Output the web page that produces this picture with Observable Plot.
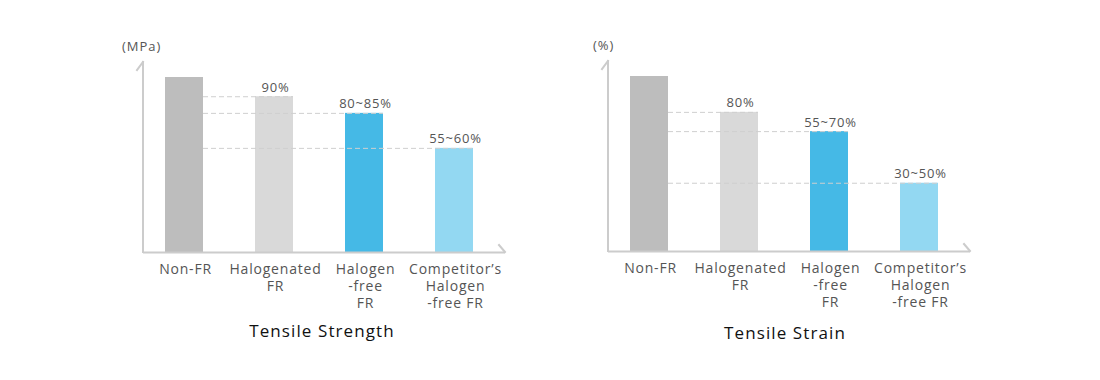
<!DOCTYPE html>
<html>
<head>
<meta charset="utf-8">
<script src="https://cdn.jsdelivr.net/npm/d3@7"></script>
<script src="https://cdn.jsdelivr.net/npm/@observablehq/plot@0.6"></script>
<style>
  html, body { margin: 0; padding: 0; background: #fff; }
  #wrap { position: relative; width: 1100px; height: 380px; overflow: hidden; font-family: "Open Sans", sans-serif; }
  .panel { position: absolute; top: 0; }
  .unit { position: absolute; font-size: 13px; color: #555; letter-spacing: 1px; }
  .title { position: absolute; font-size: 17px; color: #111; letter-spacing: 1.1px; transform: translateX(-50%); white-space: nowrap; }
</style>
</head>
<body>
<div id="wrap"></div>
<script>
// Categories (shared by both charts)
const categories = ["Non-FR", "Halogenated FR", "Halogen-free FR", "Competitor's Halogen-free FR"];
const categoryLabels = ["Non-FR", "Halogenated\nFR", "Halogen\n-free\nFR", "Competitor’s\nHalogen\n-free FR"];
const colors = ["#bdbdbd", "#d9d9d9", "#45b9e6", "#93d8f2"];

// Tensile Strength (relative to Non-FR = 100)
const strengthValues = [100, 89, 79.5, 59.5];
const strengthLabels = ["", "90%", "80~85%", "55~60%"];

// Tensile Strain (relative to Non-FR = 100)
const strainValues = [100, 79.5, 68.5, 39];
const strainLabels = ["", "80%", "55~70%", "30~50%"];

const panels = [
  {values: strengthValues, labels: strengthLabels, unit: "(MPa)", title: "Tensile Strength", left: 0, top: 0, unitX: 122, unitY: 37, titleX: 322, titleY: 319},
  {values: strainValues, labels: strainLabels, unit: "(%)", title: "Tensile Strain", left: 465, top: -1, unitX: 593, unitY: 36, titleX: 785, titleY: 321}
];

const wrap = document.getElementById("wrap");
const labelOf = new Map(categories.map((c, i) => [c, categoryLabels[i]]));

for (const p of panels) {
  const data = categories.map((c, i) => ({category: c, value: p.values[i], label: p.labels[i], color: colors[i]}));
  const ref = data.slice(1);
  const bw = 38;
  const chart = Plot.plot({
    width: 550,
    height: 320,
    marginLeft: 143,
    marginRight: 45,
    marginTop: 62,
    marginBottom: 68,
    style: {fontFamily: "'Open Sans', sans-serif", background: "transparent", overflow: "visible", letterSpacing: "0.8px"},
    x: {domain: categories, paddingInner: 0.579, paddingOuter: 0.293, align: 0.415, axis: null},
    y: {domain: [0, 108.57], axis: null},
    marks: [
      Plot.barY(data, {x: "category", y: "value", fill: "color"}),
      Plot.ruleY(ref, {y: "value", x1: () => categories[0], x2: "category", insetLeft: bw, stroke: "#cfcfcf", strokeWidth: 1, strokeDasharray: "5,3"}),
      Plot.text(ref, {x: "category", y: "value", text: "label", lineAnchor: "bottom", dy: -5, dx: 1, fontSize: 13, fill: "#555"}),
      Plot.axisX({tickSize: 0, tickPadding: 10, fontSize: 14, fill: "#555", lineHeight: 1.2, dx: 1, tickFormat: (d) => labelOf.get(d), label: null}),
      Plot.ruleY([0], {stroke: "#cccccc", strokeWidth: 2})
    ]
  });
  const svg = d3.select(chart);
  const ys = chart.scale("y");
  const x0 = 143, x1 = 550 - 45, yb = ys.apply(0), yt = ys.apply(108.57);
  // decorative axis lines (vertical axis and angled end caps)
  const g = svg.append("g").attr("stroke", "#cccccc").attr("stroke-width", 2).attr("fill", "none").attr("stroke-linecap", "square");
  g.append("line").attr("x1", x0).attr("x2", x0).attr("y1", yt).attr("y2", yb);
  g.append("line").attr("x1", x0).attr("x2", x0 - 6).attr("y1", yt).attr("y2", yt + 8);
  g.append("line").attr("x1", x1).attr("x2", x1 - 6).attr("y1", yb).attr("y2", yb - 7);
  chart.classList.add("panel");
  chart.style.position = "absolute";
  chart.style.left = p.left + "px";
  chart.style.top = p.top + "px";
  wrap.appendChild(chart);

  const u = document.createElement("div");
  u.className = "unit"; u.textContent = p.unit;
  u.style.left = p.unitX + "px"; u.style.top = p.unitY + "px";
  wrap.appendChild(u);
  const t = document.createElement("div");
  t.className = "title"; t.textContent = p.title;
  t.style.left = p.titleX + "px"; t.style.top = p.titleY + "px";
  wrap.appendChild(t);
}
</script>
</body>
</html>
